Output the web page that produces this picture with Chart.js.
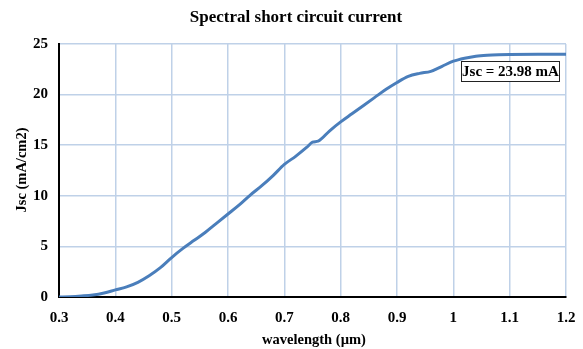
<!DOCTYPE html>
<html>
<head>
<meta charset="utf-8">
<script src="https://cdn.jsdelivr.net/npm/chart.js@4/dist/chart.umd.min.js"></script>
<style>
  html, body { margin: 0; padding: 0; background: #fff; overflow: hidden; }
  #wrap { width: 583px; height: 349px; position: relative; }
  canvas { display: block; }
</style>
</head>
<body>
<div id="wrap"><canvas id="chart-jsc"></canvas></div>
<script>
// 파장 (µm) / 단락전류 밀도 (mA/cm2) - 그림에서 읽은 값
const wavelength = [
  0.30, 0.32, 0.34, 0.36, 0.38, 0.40, 0.42, 0.44, 0.46, 0.48,
  0.50, 0.52, 0.54, 0.56, 0.58, 0.60, 0.62, 0.64, 0.66, 0.68,
  0.70, 0.72, 0.74, 0.75, 0.76, 0.78, 0.80, 0.82, 0.84, 0.86,
  0.88, 0.90, 0.92, 0.94, 0.96, 0.98, 1.00, 1.02, 1.04, 1.06,
  1.08, 1.10, 1.15, 1.20
];
const jsc = [
  0.0, 0.03, 0.1, 0.2, 0.4, 0.7, 1.0, 1.45, 2.1, 2.9,
  3.9, 4.8, 5.6, 6.4, 7.3, 8.2, 9.1, 10.1, 11.0, 12.0,
  13.1, 13.9, 14.8, 15.3, 15.4, 16.4, 17.3, 18.1, 18.9, 19.7,
  20.5, 21.2, 21.8, 22.1, 22.3, 22.8, 23.3, 23.6, 23.8, 23.9,
  23.95, 23.97, 23.98, 23.98
];
const xTicks = [0.3, 0.4, 0.5, 0.6, 0.7, 0.8, 0.9, 1.0, 1.1, 1.2];
const yTicks = [0, 5, 10, 15, 20, 25];

const titleText = 'Spectral short circuit current';
const xTitle = 'wavelength (µm)';
const yTitle = 'Jsc (mA/cm2)';
const noteText = 'Jsc = 23.98 mA';

const SERIF = '"Liberation Serif", "Times New Roman", serif';

// 제목, 축 제목, 주석 박스 그리기
const textPlugin = {
  id: 'texts',
  afterDraw(chart) {
    const ctx = chart.ctx;
    const xs = chart.scales.x;
    const ys = chart.scales.y;
    ctx.save();
    ctx.fillStyle = '#000';
    ctx.textAlign = 'center';
    ctx.textBaseline = 'middle';

    ctx.font = 'bold 17px ' + SERIF;
    ctx.fillText(titleText, 296, 18);

    ctx.font = 'bold 14.5px ' + SERIF;
    ctx.fillText(xTitle, 314, 340);

    ctx.save();
    ctx.translate(22, 170);
    ctx.rotate(-Math.PI / 2);
    ctx.fillText(yTitle, 0, 0);
    ctx.restore();

    // 주석 박스
    const bx = Math.round(xs.getPixelForValue(1.014));
    const by = Math.round(ys.getPixelForValue(23.3));
    const bw = 98, bh = 20;
    ctx.fillStyle = '#fff';
    ctx.fillRect(bx, by, bw, bh);
    ctx.strokeStyle = '#222';
    ctx.lineWidth = 1;
    ctx.strokeRect(bx + 0.5, by + 0.5, bw, bh);
    ctx.fillStyle = '#000';
    ctx.font = 'bold 15px ' + SERIF;
    ctx.fillText(noteText, bx + bw / 2 + 0.5, by + bh / 2 + 1);
    ctx.restore();
  }
};

const chart = new Chart(document.getElementById('chart-jsc'), {
  type: 'line',
  data: {
    datasets: [{
      label: 'Jsc',
      data: wavelength.map((w, i) => ({ x: w, y: jsc[i] })),
      borderColor: '#4a7ebb',
      borderWidth: 3,
      pointRadius: 0,
      cubicInterpolationMode: 'monotone',
      fill: false
    }]
  },
  options: {
    responsive: true,
    maintainAspectRatio: false,
    animation: false,
    layout: { padding: { top: 44, right: 17, left: 0, bottom: 0 } },
    plugins: {
      legend: { display: false },
      title: { display: false },
      tooltip: { enabled: false }
    },
    scales: {
      x: {
        type: 'linear',
        min: 0.3,
        max: 1.2,
        afterBuildTicks: (scale) => { scale.ticks = xTicks.map(v => ({ value: v })); },
        afterFit: (scale) => {
          scale.height = 52;
          scale.paddingLeft = 0;
          scale.paddingRight = 0;
        },
        grid: { color: '#bfd1e8', lineWidth: 1.5, drawTicks: false },
        border: { color: '#000', width: 2 },
        ticks: {
          padding: 12,
          color: '#000',
          font: { family: SERIF, size: 15, weight: 'bold' },
          callback: (v) => String(v)
        }
      },
      y: {
        min: 0,
        max: 25,
        afterBuildTicks: (scale) => { scale.ticks = yTicks.map(v => ({ value: v })); },
        afterFit: (scale) => {
          scale.width = 59;
          scale.paddingTop = 0;
          scale.paddingBottom = 0;
        },
        grid: { color: '#bfd1e8', lineWidth: 1.5, drawTicks: false },
        border: { color: '#000', width: 2 },
        ticks: {
          padding: 11,
          color: '#000',
          font: { family: SERIF, size: 15, weight: 'bold' }
        }
      }
    }
  },
  plugins: [textPlugin]
});
</script>
</body>
</html>
